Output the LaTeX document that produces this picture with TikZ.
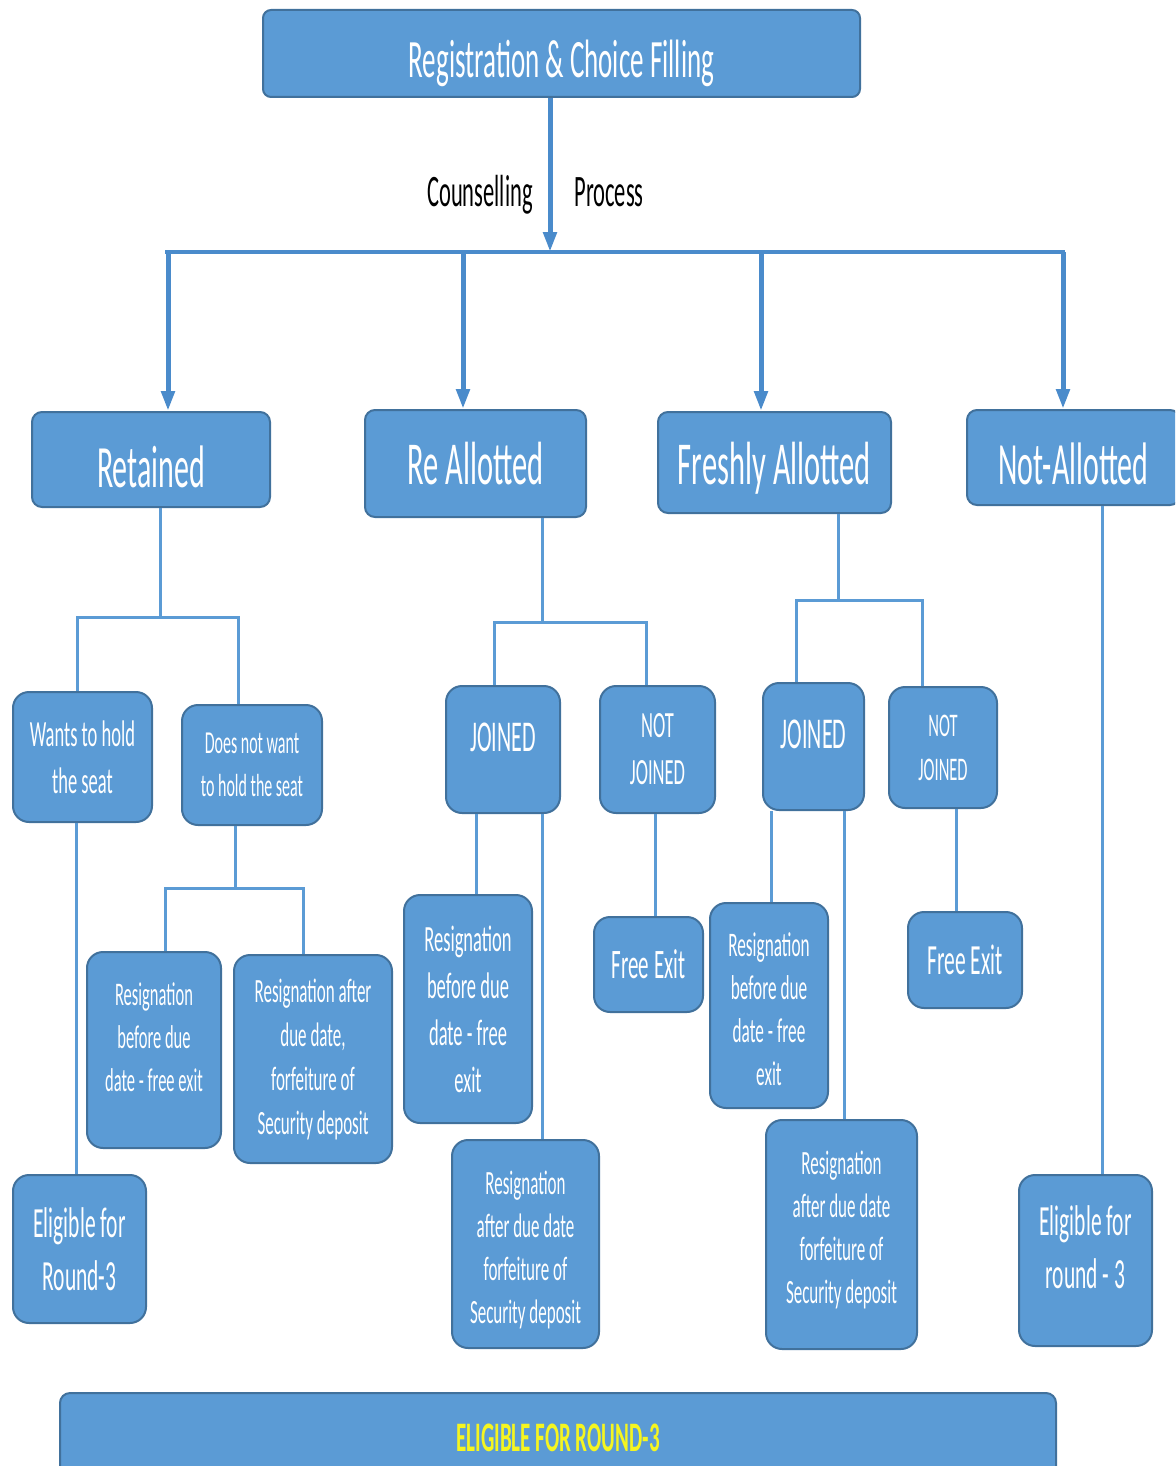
\documentclass[tikz,border=0pt]{standalone}
\usepackage{fontspec}
\setmainfont{Carlito}[FakeStretch=0.5]
\usetikzlibrary{arrows.meta}
\definecolor{boxblue}{HTML}{5B9BD5}
\definecolor{boxedge}{HTML}{41719C}
\definecolor{linkblue}{HTML}{5B9BD5}
\definecolor{arrowblue}{HTML}{4A8BCB}
\definecolor{textyellow}{HTML}{F5F520}
\newcommand{\fsz}[2]{\fontsize{#1}{#2}\selectfont}
\tikzset{
  box/.style={draw=boxedge, fill=boxblue, line width=2pt, rounded corners=16pt, text=white, align=center, inner sep=0pt},
  bigbox/.style={box, rounded corners=10pt},
  txt/.style={text=white, align=center, inner sep=0pt},
  conn/.style={draw=linkblue, line width=3pt},
  flow/.style={draw=arrowblue, line width=5pt, -{Triangle[length=20pt,width=13pt]}},
  bus/.style={draw=arrowblue, line width=4.5pt},
  lbl/.style={text=black, anchor=base, inner sep=0pt},
}
\begin{document}
\begin{tikzpicture}[x=1pt,y=-1pt]
\clip (0,0) rectangle (1175,1466);
\useasboundingbox (0,0) rectangle (1175,1466);

% top
\node[bigbox, rounded corners=8pt, minimum width=597pt, minimum height=87pt] (reg) at (561.5,53.5) {};
\node[txt, font=\fsz{54}{60}] (regt) at ([yshift=-10pt]reg.center) {Registration \& Choice Filling};
\coordinate (hub) at (550,252);
\coordinate (hl) at (165,252);
\coordinate (hr) at (1065,252);
\draw[flow] (reg.south -| hub) -- (hub);
\draw[bus] (hl) -- (hr);
\node[lbl, font=\fsz{45}{50}] (cl) at (480,207) {Counselling};
\node[lbl, font=\fsz{45}{50}] (pl) at (609,207) {Process};

% level 1
\node[bigbox, minimum width=238pt, minimum height=95pt] (ret) at (151,459.5) {};
\node[txt, font=\fsz{60}{66}] (rett) at ([yshift=-7pt]ret.center) {Retained};
\node[bigbox, minimum width=221pt, minimum height=107pt, font=\fsz{61}{66}] (rea) at (475.5,463.5) {Re Allotted};
\node[bigbox, minimum width=233pt, minimum height=101pt] (fre) at (774.5,462.5) {};
\node[txt, font=\fsz{61}{66}] (fret) at ([yshift=-6pt]fre.center) {Freshly Allotted};
\node[bigbox, minimum width=213pt, minimum height=95pt] (nal) at (1073.5,457.5) {};
\node[txt, font=\fsz{60}{66}] (nalt) at ([yshift=-6pt]nal.center) {Not-Allotted};

\coordinate (a1) at (168,252);
\coordinate (a2) at (463,252);
\coordinate (a3) at (761,252);
\coordinate (a4) at (1063,252);
\draw[flow] (a1) -- (ret.north -| a1);
\draw[flow] (a2) -- (rea.north -| a2);
\draw[flow] (a3) -- (fre.north -| a3);
\draw[flow] (a4) -- (nal.north -| a4);

% Retained branch
\node[box, minimum width=139pt, minimum height=130pt, font=\fsz{37}{47}] (wan) at (82.5,757) {Wants to hold\\the seat};
\node[box, minimum width=140pt, minimum height=120pt, font=\fsz{32}{43}] (dnw) at (252,765) {Does not want\\to hold the seat};
\node[box, minimum width=134pt, minimum height=196pt] (rb1) at (154,1050) {};
\node[txt, font=\fsz{33}{43}] (rb1t) at ([yshift=13pt]rb1.center) {Resignation\\before due\\date - free exit};
\node[box, minimum width=158pt, minimum height=208pt, font=\fsz{34}{44}] (ra1) at (313,1059) {Resignation after\\due date,\\forfeiture of\\Security deposit};
\node[box, minimum width=133pt, minimum height=148pt, font=\fsz{43}{53}] (el1) at (79.5,1249) {Eligible for\\Round-3};

\coordinate (rj) at (160,617);
\coordinate (rjl) at (77,617);
\coordinate (rjr) at (238,617);
\draw[conn] (ret.south -| rj) -- (rj);
\draw[conn] (wan.north -| rjl) -- (rjl) -- (rjr) -- (dnw.north -| rjr);
\coordinate (dj) at (235,888);
\coordinate (djl) at (165,888);
\coordinate (djr) at (303,888);
\draw[conn] (dnw.south -| dj) -- (dj);
\draw[conn] (rb1.north -| djl) -- (djl) -- (djr) -- (ra1.north -| djr);
\coordinate (wx) at (76,0);
\draw[conn] (wan.south -| wx) -- (el1.north -| wx);

% Re Allotted branch
\node[box, minimum width=114pt, minimum height=127pt] (jo2) at (503,749.5) {};
\node[txt, font=\fsz{44}{50}] (jo2t) at ([yshift=12pt]jo2.center) {JOINED};
\node[box, minimum width=115pt, minimum height=127pt, font=\fsz{37}{47}] (nj2) at (657.5,749.5) {NOT\\JOINED};
\node[box, minimum width=128pt, minimum height=228pt, font=\fsz{37}{47}] (rb2) at (468,1009) {Resignation\\before due\\date - free\\exit};
\node[box, minimum width=147pt, minimum height=208pt] (ra2) at (525.5,1244) {};
\node[txt, font=\fsz{34}{43}] (ra2t) at ([yshift=-6pt]ra2.center) {Resignation\\after due date\\forfeiture of\\Security deposit};
\node[box, minimum width=109pt, minimum height=95pt, font=\fsz{42}{46}] (fx2) at (648.5,964.5) {Free Exit};

\coordinate (aj) at (542,622);
\coordinate (ajl) at (494,622);
\coordinate (ajr) at (646,622);
\draw[conn] (rea.south -| aj) -- (aj);
\draw[conn] (jo2.north -| ajl) -- (ajl) -- (ajr) -- (nj2.north -| ajr);
\coordinate (x476) at (476,0);
\coordinate (x542) at (542,0);
\coordinate (x655) at (655,0);
\draw[conn] (jo2.south -| x476) -- (rb2.north -| x476);
\draw[conn] (jo2.south -| x542) -- (ra2.north -| x542);
\draw[conn] (nj2.south -| x655) -- (fx2.north -| x655);

% Freshly Allotted branch
\node[box, minimum width=101pt, minimum height=127pt] (jo3) at (813.5,746.5) {};
\node[txt, font=\fsz{44}{50}] (jo3t) at ([yshift=12pt]jo3.center) {JOINED};
\node[box, minimum width=108pt, minimum height=121pt, font=\fsz{33}{44}] (nj3) at (943,747.5) {NOT\\JOINED};
\node[box, minimum width=118pt, minimum height=205pt] (rb3) at (769,1005.5) {};
\node[txt, font=\fsz{34.5}{43}] (rb3t) at ([yshift=-4pt]rb3.center) {Resignation\\before due\\date - free\\exit};
\node[box, minimum width=151pt, minimum height=229pt] (ra3) at (841.5,1234.5) {};
\node[txt, font=\fsz{34}{43}] (ra3t) at ([yshift=5pt]ra3.center) {Resignation\\after due date\\forfeiture of\\Security deposit};
\node[box, minimum width=114pt, minimum height=96pt, font=\fsz{43}{46}] (fx3) at (965,960) {Free Exit};

\coordinate (fj) at (838,600);
\coordinate (fjl) at (796,600);
\coordinate (fjr) at (922,600);
\draw[conn] (fre.south -| fj) -- (fj);
\draw[conn] (jo3.north -| fjl) -- (fjl) -- (fjr) -- (nj3.north -| fjr);
\coordinate (x771) at (771,0);
\coordinate (x844) at (844,0);
\coordinate (x956) at (956,0);
\draw[conn] (jo3.south -| x771) -- (rb3.north -| x771);
\draw[conn] (jo3.south -| x844) -- (ra3.north -| x844);
\draw[conn] (nj3.south -| x956) -- (fx3.north -| x956);

% Not-Allotted branch
\node[box, minimum width=133pt, minimum height=171pt] (el2) at (1085.5,1260.5) {};
\node[txt, font=\fsz{43}{53}] (el2t) at ([yshift=13pt]el2.center) {Eligible for\\round - 3};
\coordinate (x1102) at (1102,0);
\draw[conn] (nal.south -| x1102) -- (el2.north -| x1102);

% bottom bar
\node[bigbox, minimum width=996pt, minimum height=90pt, text=textyellow, font=\bfseries\fsz{42}{46}] (bot) at (558,1438) {ELIGIBLE FOR ROUND-3};
\end{tikzpicture}
\end{document}
